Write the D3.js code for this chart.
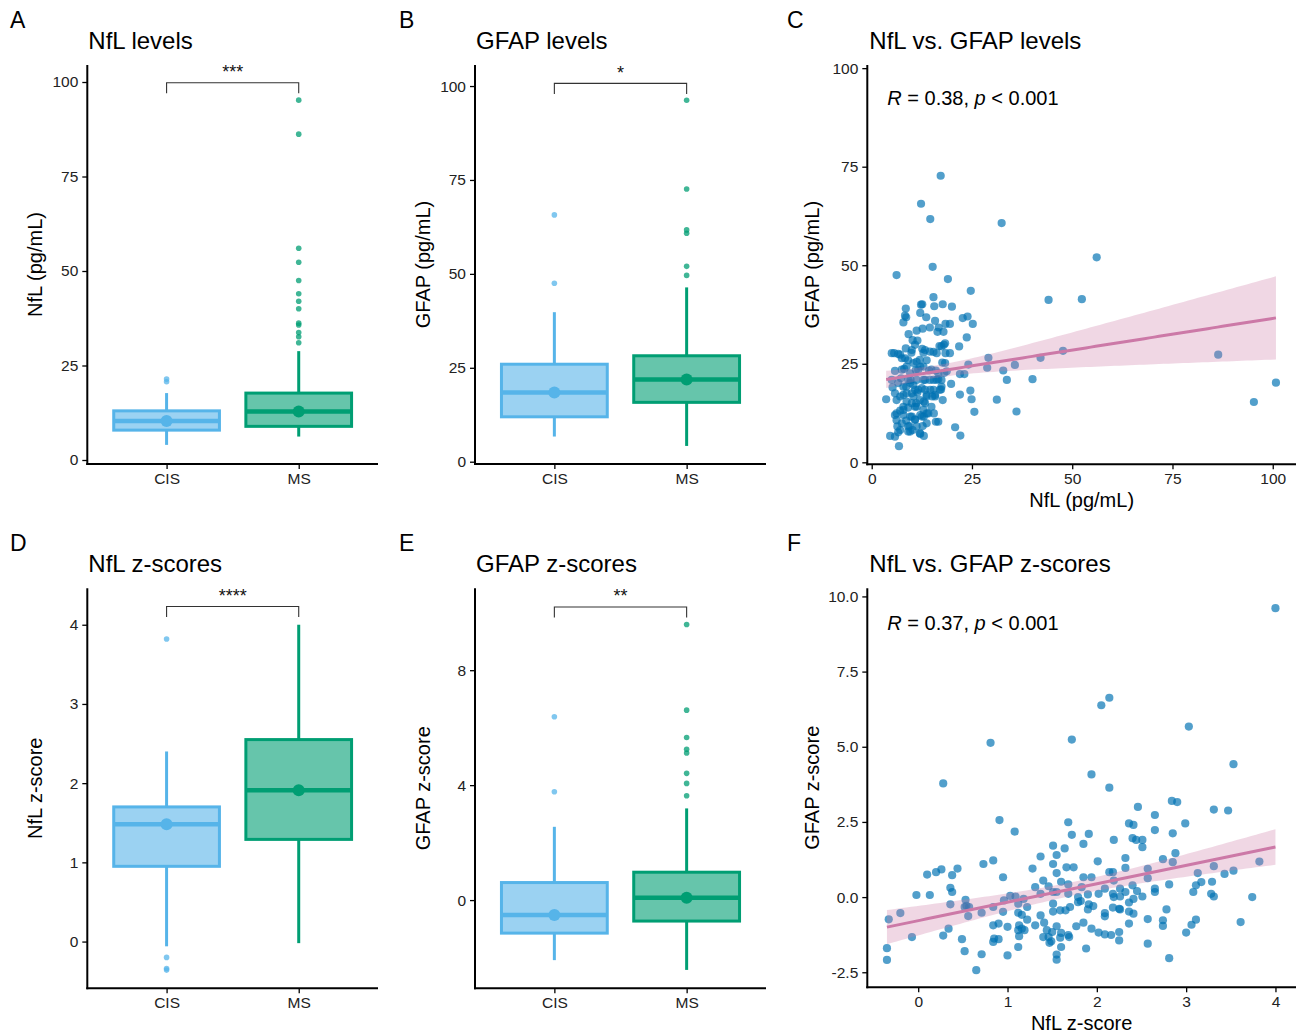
<!DOCTYPE html>
<html><head><meta charset="utf-8">
<script src="https://cdn.jsdelivr.net/npm/d3@7"></script>
<style>
body{margin:0;background:#fff}
text{font-family:"Liberation Sans",Arial,Helvetica,sans-serif}
</style>
</head><body>
<svg id="chart" width="1312" height="1034"></svg>
<script>
// ---------------- DATA ----------------
const groups = ["CIS", "MS"];
const groupColors = ["#56B4E9", "#009E73"];
const groupFills = ["#9BD2F2", "#66C5AB"];

// box stats: [whiskerLow, q1, median, q3, whiskerHigh]
const nflCISBox = [4.0, 7.9, 10.3, 13.0, 17.7];
const nflCISOut = [20.7, 21.4];
const nflMSBox = [6.2, 8.9, 12.8, 17.7, 28.8];
const nflMSOut = [31.0, 32.6, 33.7, 35.7, 36.2, 40.0, 42.0, 44.0, 47.5, 52.3, 56.0, 86.2, 95.2];

const gfapCISBox = [6.7, 11.95, 18.4, 25.95, 39.8];
const gfapCISOut = [47.5, 65.7];
const gfapMSBox = [4.2, 15.8, 21.9, 28.2, 46.4];
const gfapMSOut = [49.6, 52.0, 60.8, 61.7, 72.6, 96.2];

const nflzCISBox = [-0.06, 0.95, 1.48, 1.70, 2.40];
const nflzCISOut = [-0.36, -0.34, -0.20, 3.82];
const nflzMSBox = [-0.02, 1.29, 1.91, 2.55, 4.0];
const nflzMSOut = [];

const gfapzCISBox = [-2.09, -1.15, -0.52, 0.61, 2.55];
const gfapzCISOut = [3.77, 6.38];
const gfapzMSBox = [-2.43, -0.73, 0.08, 0.97, 3.19];
const gfapzMSOut = [3.63, 4.06, 4.41, 5.12, 5.25, 5.66, 6.61, 9.59];

const sigLabels = ["***", "*", "****", "**"];
const sigLevels = [99.8, 100.7, 4.23, 10.2];

const ticksLevels = [0, 25, 50, 75, 100];
const ticksNflZ = [0, 1, 2, 3, 4];
const ticksGfapZ = [0, 4, 8];
const ticksScatterZY = [-2.5, 0, 2.5, 5, 7.5, 10];
const ticksScatterZX = [0, 1, 2, 3, 4];

// scatter: NfL vs GFAP levels [NfL, GFAP]
const scatterLevels = [
[17.2,72.7],[12.3,65.6],[14.6,61.7],[32.4,60.7],[56.1,52.0],[6.2,47.5],[15.2,49.6],[19.0,46.5],[24.7,43.5],[44.1,41.2],
[52.4,41.4],[15.4,41.9],[17.7,40.1],[20.0,39.5],[12.3,40.0],[12.6,40.1],[15.6,39.6],[8.5,39.0],[8.3,37.2],[8.6,36.8],
[7.9,35.5],[12.1,37.9],[13.6,36.8],[15.8,35.9],[18.4,35.1],[19.5,35.1],[22.7,36.6],[23.9,37.0],[25.2,35.1],[14.5,34.2],
[12.7,33.9],[11.2,33.4],[16.7,34.2],[17.9,33.1],[16.4,33.1],[9.2,32.5],[10.2,31.0],[11.4,30.9],[23.7,31.7],[10.8,29.8],
[8.5,28.9],[12.6,28.8],[16.9,29.5],[18.0,29.8],[21.8,29.4],[5.0,27.7],[6.6,27.5],[9.9,27.8],[12.9,27.8],[15.4,28.0],
[18.4,27.7],[29.1,26.5],[42.1,26.5],[47.7,28.3],[86.4,27.3],[7.5,26.4],[9.1,25.9],[11.2,25.5],[13.7,25.9],[17.6,25.3],
[24.1,24.8],[28.8,24.0],[35.7,24.7],[5.8,23.2],[8.1,23.7],[11.0,23.4],[12.1,24.3],[14.3,23.3],[16.0,23.3],[18.1,22.7],
[32.8,23.3],[22.0,22.4],[23.1,22.4],[5.0,20.9],[7.3,21.3],[9.7,20.9],[13.3,20.9],[15.4,20.9],[16.6,21.1],[40.1,21.1],
[33.7,20.9],[19.8,19.9],[5.2,19.0],[8.6,19.2],[10.4,19.6],[12.5,18.8],[14.6,18.4],[17.3,18.5],[24.6,18.2],[100.8,20.2],
[5.8,17.5],[7.9,17.1],[10.0,17.5],[11.4,17.7],[13.7,17.1],[15.8,17.1],[22.0,17.2],[3.6,16.0],[6.2,15.8],[8.7,15.4],
[11.1,15.0],[13.0,15.4],[15.1,16.7],[17.7,15.8],[24.9,16.0],[31.2,15.9],[95.3,15.3],[9.1,13.9],[10.8,14.1],[13.3,15.0],
[7.1,13.1],[25.6,12.8],[36.1,12.9],[5.8,12.0],[7.9,12.0],[10.0,11.6],[12.1,12.0],[13.7,12.4],[15.5,12.4],[6.2,10.7],
[8.6,10.6],[10.8,10.9],[13.0,11.6],[16.0,10.3],[6.4,9.1],[9.4,9.2],[11.2,9.1],[12.7,9.2],[20.8,8.9],[6.6,7.6],
[9.1,7.8],[10.2,8.2],[4.6,6.7],[5.8,6.5],[12.1,7.2],[13.0,6.7],[22.1,6.8],[6.8,4.1],
[5.6,27.7],[7.1,27.3],[8.3,26.4],[10.0,28.5],[8.7,24.3],[10.4,25.2],[12.0,26.0],[13.3,28.5],[14.5,28.1],[16.2,27.7],
[17.4,29.4],[18.3,30.2],[7.5,23.5],[9.6,22.6],[11.6,23.5],[12.9,24.3],[14.9,23.5],[16.6,22.6],[18.3,25.2],[6.6,20.1],
[7.9,19.2],[9.6,20.1],[11.2,20.9],[12.9,20.9],[14.5,20.9],[16.2,20.9],[17.4,20.9],[7.1,16.7],[8.7,17.5],[10.4,16.7],
[12.0,15.8],[13.7,16.7],[15.4,18.4],[17.0,18.4],[6.2,12.4],[7.9,13.3],[9.6,11.6],[11.2,14.1],[12.9,13.3],[14.9,14.1],
[7.5,9.9],[9.1,9.1],[10.8,10.8],[12.5,11.6],[14.1,12.4],[7.1,8.2],[9.6,7.8],[12.0,7.4],[13.7,9.9],[16.6,10.3],
[7.9,14.1],[10.0,15.0],[11.6,18.4],[9.1,20.9],[10.8,18.4],[13.3,18.4],[15.8,16.7],[17.4,19.2],[18.7,23.1],[19.5,27.7]
];

// scatter: NfL vs GFAP z-scores [NfL z, GFAP z]
const scatterZ = [
[4.0,9.61],[2.14,6.63],[2.05,6.38],[3.03,5.67],[1.72,5.24],[0.81,5.13],[3.53,4.42],[1.94,4.08],[2.14,3.64],[0.28,3.78],
[2.84,3.20],[2.90,3.16],[2.46,3.0],[3.31,2.91],[3.47,2.88],[0.91,2.56],[1.68,2.49],[2.36,2.45],[2.41,2.40],[2.65,2.73],
[2.99,2.45],[1.08,2.18],[1.72,2.07],[1.91,2.10],[2.19,1.90],[2.40,1.96],[2.44,1.90],[2.51,1.90],[2.65,2.23],[2.85,2.12],
[1.85,1.77],[1.51,1.71],[1.64,1.62],[2.51,1.66],[2.88,1.46],[1.55,1.40],[1.37,1.35],[2.32,1.30],[2.74,1.26],[0.84,1.22],
[0.73,1.10],[1.51,1.10],[2.01,1.19],[2.85,1.16],[3.82,1.18],[1.66,0.99],[1.74,0.99],[1.28,0.95],[0.44,0.95],[0.26,0.92],
[0.20,0.83],[0.10,0.75],[0.38,0.73],[1.55,0.80],[2.14,0.83],[2.18,0.83],[2.32,0.97],[2.57,0.94],[3.31,1.03],[3.53,0.88],
[3.43,0.77],[3.13,0.80],[0.95,0.66],[1.85,0.66],[1.94,0.66],[2.57,0.63],[1.40,0.55],[1.60,0.51],[2.19,0.55],[3.17,0.50],
[3.29,0.51],[3.11,0.39],[1.31,0.33],[1.46,0.36],[1.68,0.42],[1.83,0.33],[2.40,0.39],[2.81,0.42],[0.36,0.31],[2.09,0.28],
[2.26,0.28],[2.65,0.28],[1.51,0.17],[1.55,0.17],[0.38,0.17],[2.45,0.20],[2.65,0.17],[3.08,0.17],[1.37,0.11],[1.68,0.11],
[1.90,0.09],[2.02,0.11],[2.18,0.11],[2.32,0.17],[-0.02,0.07],[0.13,0.07],[1.03,0.04],[1.09,0.02],[2.19,0.0],[2.26,0.02],
[2.51,0.02],[3.28,0.11],[3.31,0.02],[3.74,0.0],[0.96,-0.11],[1.18,-0.06],[1.79,0.0],[0.53,-0.09],[2.41,-0.06],[1.79,-0.17],
[1.82,-0.13],[0.36,-0.24],[1.51,-0.22],[1.12,-0.22],[2.36,-0.18],[0.54,-0.29],[0.52,-0.33],[0.57,-0.33],[0.84,-0.33],[1.22,-0.33],
[1.70,-0.33],[1.91,-0.24],[1.96,-0.30],[2.18,-0.35],[2.25,-0.39],[2.26,-0.41],[2.36,-0.48],[2.41,-0.55],[-0.20,-0.53],[0.71,-0.52],
[0.95,-0.49],[1.12,-0.52],[1.16,-0.59],[1.22,-0.75],[1.51,-0.48],[1.59,-0.44],[1.65,-0.44],[1.90,-0.41],[2.09,-0.53],[2.09,-0.64],
[2.78,-0.41],[-0.33,-0.74],[0.56,-0.63],[1.37,-0.61],[2.57,-0.73],[2.74,-0.77],[3.11,-0.75],[3.61,-0.83],[1.41,-0.85],[1.85,-0.85],
[0.84,-0.94],[0.90,-0.88],[1.31,-0.94],[1.13,-0.94],[1.55,-0.97],[1.77,-0.97],[2.36,-0.88],[3.06,-0.92],[2.74,-0.96],[1.00,-0.99],
[1.16,-1.05],[1.94,-1.05],[0.34,-1.05],[1.12,-1.10],[1.19,-1.10],[1.44,-1.10],[1.50,-1.16],[2.02,-1.18],[3.00,-1.18],[2.25,-1.16],
[1.60,-1.19],[2.09,-1.24],[2.16,-1.26],[-0.07,-1.33],[0.28,-1.28],[1.13,-1.30],[1.40,-1.33],[1.46,-1.33],[1.59,-1.35],[1.68,-1.26],
[1.69,-1.33],[0.85,-1.38],[0.90,-1.40],[0.49,-1.40],[1.49,-1.47],[0.84,-1.49],[2.25,-1.44],[1.47,-1.52],[2.57,-1.55],[1.12,-1.66],
[1.60,-1.66],[0.52,-1.80],[1.88,-1.71],[-0.35,-1.70],[0.71,-1.90],[1.00,-1.94],[1.55,-1.91],[-0.35,-2.09],[1.55,-2.08],[2.81,-2.03],
[0.65,-2.43]
];

// ---------------- DRAWING ----------------
const svg = d3.select("#chart");
const FONT = '"Liberation Sans",Arial,Helvetica,sans-serif';

function label(txt, x, y, size, opts = {}) {
  return svg.append("text").attr("x", x).attr("y", y).attr("font-size", size)
    .attr("fill", opts.fill || "#000").attr("text-anchor", opts.anchor || "start")
    .attr("transform", opts.rotate ? `rotate(-90,${x},${y})` : null)
    .text(txt);
}

function styleAxis(g) {
  g.select(".domain").remove();
  g.selectAll(".tick line").attr("stroke", "#000").attr("stroke-width", 1.3);
  g.selectAll(".tick text").attr("font-size", 15.5).attr("fill", "#222").attr("font-family", FONT);
}

function axisLines(p) {
  svg.append("line").attr("x1", p.l).attr("x2", p.l).attr("y1", p.t).attr("y2", p.b + 1)
    .attr("stroke", "#000").attr("stroke-width", 2);
  svg.append("line").attr("x1", p.l - 1).attr("x2", p.r).attr("y1", p.b).attr("y2", p.b)
    .attr("stroke", "#000").attr("stroke-width", 2);
}

const hyphenFmt = f => (d => d3.format(f)(d).replace("\u2212", "-"));

function boxPanel(p) {
  const x = d3.scalePoint().domain(groups).range([p.l, p.r]).padding(0.6);
  const y = d3.scaleLinear().domain(p.yDomain).range([p.b, p.t]);
  const bw = x.step() * 0.8;
  const g = svg.append("g");
  p.stats.forEach((s, i) => {
    const cx = x(groups[i]);
    const col = groupColors[i];
    g.append("line").attr("x1", cx).attr("x2", cx).attr("y1", y(s[0])).attr("y2", y(s[1]))
      .attr("stroke", col).attr("stroke-width", 3);
    g.append("line").attr("x1", cx).attr("x2", cx).attr("y1", y(s[3])).attr("y2", y(s[4]))
      .attr("stroke", col).attr("stroke-width", 3);
    g.append("rect").attr("x", cx - bw / 2).attr("y", y(s[3])).attr("width", bw)
      .attr("height", y(s[1]) - y(s[3])).attr("fill", groupFills[i])
      .attr("stroke", col).attr("stroke-width", 3);
    g.append("line").attr("x1", cx - bw / 2).attr("x2", cx + bw / 2)
      .attr("y1", y(s[2])).attr("y2", y(s[2])).attr("stroke", col).attr("stroke-width", 4.5);
    g.append("circle").attr("cx", cx).attr("cy", y(s[2])).attr("r", 6).attr("fill", col);
    g.selectAll(null).data(p.outliers[i]).enter().append("circle")
      .attr("cx", cx).attr("cy", d => y(d)).attr("r", 2.8)
      .attr("fill", col).attr("fill-opacity", 0.75);
  });
  // significance bracket
  const by = y(p.sig);
  const x1 = x(groups[0]), x2 = x(groups[1]);
  svg.append("path").attr("d", `M${x1},${by + 10.5}V${by}H${x2}V${by + 10.5}`)
    .attr("fill", "none").attr("stroke", "#333").attr("stroke-width", 1.1);
  svg.append("text").attr("x", (x1 + x2) / 2).attr("y", by - 4.5).attr("text-anchor", "middle")
    .attr("font-size", 18).attr("fill", "#111").text(p.sigLabel);
  // axes
  const ya = svg.append("g").attr("transform", `translate(${p.l},0)`)
    .call(d3.axisLeft(y).tickValues(p.ticks).tickSize(5).tickPadding(4).tickFormat(hyphenFmt("d")));
  styleAxis(ya);
  const xa = svg.append("g").attr("transform", `translate(0,${p.b})`)
    .call(d3.axisBottom(x).tickSize(5).tickPadding(4));
  styleAxis(xa);
  axisLines(p);
  label(p.ytitle, p.ytx, (p.t + p.b) / 2, 20, { rotate: true, anchor: "middle" });
  label(p.title, p.l + 1, p.t - 16, 24);
  label(p.letter, p.letterX, p.t - 37, 23);
}

function regression(pts, xs) {
  const n = pts.length;
  const mx = d3.mean(pts, d => d[0]), my = d3.mean(pts, d => d[1]);
  let sxx = 0, sxy = 0;
  pts.forEach(d => { sxx += (d[0] - mx) ** 2; sxy += (d[0] - mx) * (d[1] - my); });
  const b = sxy / sxx, a = my - b * mx;
  let sse = 0;
  pts.forEach(d => { sse += (d[1] - a - b * d[0]) ** 2; });
  const s = Math.sqrt(sse / (n - 2));
  const t = 1.97;
  return xs.map(xv => {
    const yh = a + b * xv;
    const se = s * Math.sqrt(1 / n + (xv - mx) ** 2 / sxx);
    return { x: xv, y: yh, lo: yh - t * se, hi: yh + t * se };
  });
}

function scatterPanel(p) {
  const x = d3.scaleLinear().domain(p.xDomain).range([p.l, p.r]);
  const y = d3.scaleLinear().domain(p.yDomain).range([p.b, p.t]);
  const g = svg.append("g");
  g.selectAll("circle").data(p.pts).enter().append("circle")
    .attr("cx", d => x(d[0])).attr("cy", d => y(d[1])).attr("r", 4.1)
    .attr("fill", "#0072B2").attr("fill-opacity", 0.68);
  const ext = d3.extent(p.pts, d => d[0]);
  const xs = d3.range(0, 81).map(i => ext[0] + (ext[1] - ext[0]) * i / 80);
  const fit = regression(p.pts, xs);
  g.append("path").datum(fit)
    .attr("d", d3.area().x(d => x(d.x)).y0(d => y(d.lo)).y1(d => y(d.hi)))
    .attr("fill", "#CC79A7").attr("fill-opacity", 0.3);
  g.append("path").datum(fit)
    .attr("d", d3.line().x(d => x(d.x)).y(d => y(d.y)))
    .attr("fill", "none").attr("stroke", "#CC79A7").attr("stroke-width", 3);
  const ya = svg.append("g").attr("transform", `translate(${p.l},0)`)
    .call(d3.axisLeft(y).tickValues(p.yticks).tickSize(5).tickPadding(4).tickFormat(hyphenFmt(p.yfmt)));
  styleAxis(ya);
  const xa = svg.append("g").attr("transform", `translate(0,${p.b})`)
    .call(d3.axisBottom(x).tickValues(p.xticks).tickSize(5).tickPadding(4).tickFormat(hyphenFmt("d")));
  styleAxis(xa);
  axisLines(p);
  label(p.ytitle, p.ytx, (p.t + p.b) / 2, 20, { rotate: true, anchor: "middle" });
  label(p.xtitle, (p.l + p.r) / 2, p.b + 43, 20, { anchor: "middle" });
  label(p.title, p.l + 2, p.t - 16, 24);
  label(p.letter, p.letterX, p.t - 37, 23);
  const t = svg.append("text").attr("x", p.l + 20).attr("y", p.annY).attr("font-size", 20).attr("fill", "#000");
  t.append("tspan").attr("font-style", "italic").text("R");
  t.append("tspan").text(` = ${p.r2}, `);
  t.append("tspan").attr("font-style", "italic").text("p");
  t.append("tspan").text(" < 0.001");
}

boxPanel({ l: 87.3, r: 378, t: 65, b: 464, yDomain: [-1.06, 104.5], ticks: ticksLevels,
  stats: [nflCISBox, nflMSBox], outliers: [nflCISOut, nflMSOut], sig: sigLevels[0], sigLabel: sigLabels[0],
  ytitle: "NfL (pg/mL)", ytx: 42, title: "NfL levels", letter: "A", letterX: 10 });
boxPanel({ l: 475, r: 766, t: 65, b: 464, yDomain: [-0.61, 105.6], ticks: ticksLevels,
  stats: [gfapCISBox, gfapMSBox], outliers: [gfapCISOut, gfapMSOut], sig: sigLevels[1], sigLabel: sigLabels[1],
  ytitle: "GFAP (pg/mL)", ytx: 430, title: "GFAP levels", letter: "B", letterX: 399 });
scatterPanel({ l: 867.3, r: 1296, t: 65, b: 464.3, xDomain: [-1.1, 105.8], yDomain: [-0.5, 100.8],
  pts: scatterLevels, yticks: ticksLevels, xticks: ticksLevels, yfmt: "d",
  ytitle: "GFAP (pg/mL)", xtitle: "NfL (pg/mL)", ytx: 819, title: "NfL vs. GFAP levels",
  letter: "C", letterX: 787, annY: 105, r2: "0.38" });
boxPanel({ l: 87.3, r: 378, t: 588.3, b: 988.3, yDomain: [-0.59, 4.46], ticks: ticksNflZ,
  stats: [nflzCISBox, nflzMSBox], outliers: [nflzCISOut, nflzMSOut], sig: sigLevels[2], sigLabel: sigLabels[2],
  ytitle: "NfL z-score", ytx: 42, title: "NfL z-scores", letter: "D", letterX: 10 });
boxPanel({ l: 475, r: 766, t: 588.3, b: 988.3, yDomain: [-3.07, 10.85], ticks: ticksGfapZ,
  stats: [gfapzCISBox, gfapzMSBox], outliers: [gfapzCISOut, gfapzMSOut], sig: sigLevels[3], sigLabel: sigLabels[3],
  ytitle: "GFAP z-score", ytx: 430, title: "GFAP z-scores", letter: "E", letterX: 399 });
scatterPanel({ l: 867.3, r: 1296, t: 588.3, b: 987.3, xDomain: [-0.57, 4.23], yDomain: [-3.0, 10.27],
  pts: scatterZ, yticks: ticksScatterZY, xticks: ticksScatterZX, yfmt: ".1f",
  ytitle: "GFAP z-score", xtitle: "NfL z-score", ytx: 819, title: "NfL vs. GFAP z-scores",
  letter: "F", letterX: 787, annY: 630, r2: "0.37" });
</script>
</body></html>
